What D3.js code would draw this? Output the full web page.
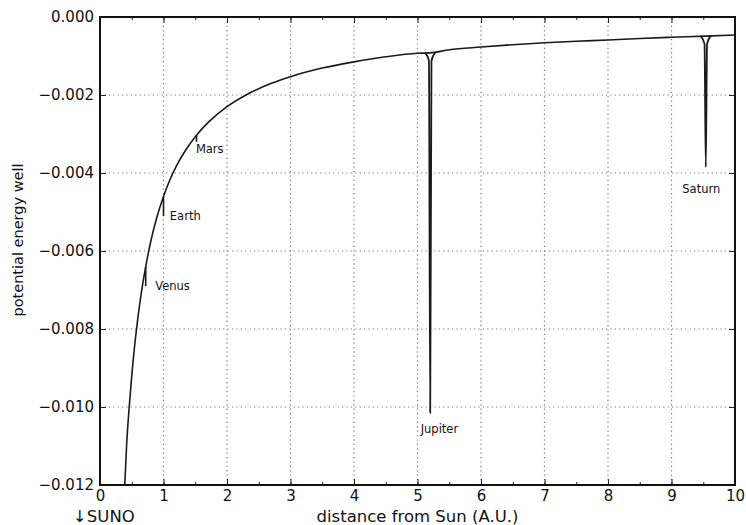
<!DOCTYPE html>
<html>
<head>
<meta charset="utf-8">
<script src="https://cdn.jsdelivr.net/npm/d3@7"></script>
<style>
  body { margin: 0; background: #fff; }
  text { font-family: "DejaVu Sans", sans-serif; fill: #111; }
</style>
</head>
<body>
<svg id="chart"></svg>
<script>
// 数据：势能曲线（不含行星凹陷）
const distance = [0.39, 0.42, 0.46, 0.5, 0.55, 0.6, 0.65, 0.72, 0.8, 0.9, 1.0, 1.1, 1.2,
  1.35, 1.52, 1.7, 2.0, 2.3, 2.7, 3.0, 3.5, 4.0, 4.5, 5.0, 5.2, 5.5, 6.0, 6.5, 7.0, 7.5,
  8.0, 8.5, 9.0, 9.54, 10.0];
const potential = [-0.0120, -0.01095, -0.0100, -0.0092, -0.00836, -0.00767, -0.00708,
  -0.0064, -0.00575, -0.00511, -0.0046, -0.00418, -0.00383, -0.00341, -0.00303, -0.00271,
  -0.0023, -0.002, -0.0017, -0.00153, -0.00131, -0.00115, -0.00102, -0.00093, -0.00092,
  -0.00084, -0.00077, -0.00071, -0.00066, -0.00062, -0.00059, -0.00055, -0.00052,
  -0.00049, -0.00046];

// 行星凹陷：位置、凹陷顶部和底部
const planetNames = ['Venus', 'Earth', 'Mars', 'Jupiter', 'Saturn'];
const planetDistance = [0.72, 1.0, 1.52, 5.2, 9.54];
const planetTop = [-0.0064, -0.0046, -0.00303, -0.00092, -0.00049];
const planetDepth = [-0.0069, -0.0051, -0.0032, -0.01015, -0.00385];

// 行星标注（数据坐标）
const planetLabelX = [0.87, 1.1, 1.51, 5.05, 9.17];
const planetLabelY = [-0.0070, -0.0052, -0.00349, -0.01067, -0.00451];

const xTicks = [0, 1, 2, 3, 4, 5, 6, 7, 8, 9, 10];
const yTicks = [0, -0.002, -0.004, -0.006, -0.008, -0.010, -0.012];

const W = 746, H = 525;
const margin = { top: 17, right: 11, bottom: 40, left: 100 };
const width = W - margin.left - margin.right;
const height = H - margin.top - margin.bottom;

const svg = d3.select('#chart').attr('width', W).attr('height', H);
const g = svg.append('g').attr('transform', `translate(${margin.left},${margin.top})`);

const xScale = d3.scaleLinear().domain([0, 10]).range([0, width]);
const yScale = d3.scaleLinear().domain([-0.012, 0]).range([height, 0]);

const fmtY = (d) => d3.format('.3f')(d).replace('-', '\u2212');

// 网格线
g.append('g')
  .selectAll('line')
  .data(xTicks.slice(1, -1))
  .join('line')
  .attr('x1', (d) => xScale(d)).attr('x2', (d) => xScale(d))
  .attr('y1', 0).attr('y2', height)
  .attr('stroke', '#777').attr('stroke-width', 1.2).attr('stroke-dasharray', '1.2,3.2');

g.append('g')
  .selectAll('line')
  .data(yTicks.slice(1, -1))
  .join('line')
  .attr('y1', (d) => yScale(d)).attr('y2', (d) => yScale(d))
  .attr('x1', 0).attr('x2', width)
  .attr('stroke', '#777').attr('stroke-width', 1.2).attr('stroke-dasharray', '1.2,3.2');

// 坐标轴（刻度朝内）
const minorX = d3.range(0, 10.01, 0.5);

g.append('g')
  .attr('transform', `translate(0,${height})`)
  .call(d3.axisBottom(xScale).tickValues(minorX).tickSize(-3).tickFormat(''))
  .call((a) => a.select('.domain').remove());
g.append('g')
  .call(d3.axisTop(xScale).tickValues(minorX).tickSize(-3).tickFormat(''))
  .call((a) => a.select('.domain').remove());

const xAxis = g.append('g')
  .attr('transform', `translate(0,${height})`)
  .call(d3.axisBottom(xScale).tickValues(xTicks).tickSize(-6).tickPadding(5).tickFormat(d3.format('d')));
xAxis.select('.domain').remove();
xAxis.selectAll('text').style('font-size', '15px').attr('fill', '#111');

g.append('g')
  .call(d3.axisTop(xScale).tickValues(xTicks).tickSize(-6).tickFormat(''))
  .call((a) => a.select('.domain').remove());

const yAxis = g.append('g')
  .call(d3.axisLeft(yScale).tickValues(yTicks).tickSize(-6).tickPadding(6).tickFormat(fmtY));
yAxis.select('.domain').remove();
yAxis.selectAll('text').style('font-size', '15px').attr('fill', '#111');

g.append('g')
  .attr('transform', `translate(${width},0)`)
  .call(d3.axisRight(yScale).tickValues(yTicks).tickSize(-6).tickFormat(''))
  .call((a) => a.select('.domain').remove());

g.selectAll('.tick line').attr('stroke', '#222');

// 边框
g.append('rect')
  .attr('width', width).attr('height', height)
  .attr('fill', 'none').attr('stroke', '#111').attr('stroke-width', 2);

// 曲线
const points = distance.map((d, i) => ({ x: d, y: potential[i] }));
const line = d3.line()
  .x((d) => xScale(d.x))
  .y((d) => yScale(d.y))
  .curve(d3.curveMonotoneX);

const plot = g.append('g').attr('clip-path', 'url(#clip)');
svg.append('clipPath').attr('id', 'clip')
  .append('rect').attr('width', width).attr('height', height);

plot.append('path')
  .datum(points)
  .attr('d', line)
  .attr('fill', 'none')
  .attr('stroke', '#1a1a1a')
  .attr('stroke-width', 1.6);

// 行星凹陷：小行星画短竖线，木星和土星画带喇叭口的尖峰
planetNames.forEach((name, i) => {
  const x = planetDistance[i];
  const top = planetTop[i];
  const depth = planetDepth[i];
  const big = depth - top < -0.002;
  if (big) {
    const spike = [
      { x: x - 0.08, y: top },
      { x: x - 0.02, y: top - 0.0002 },
      { x: x, y: depth },
      { x: x + 0.02, y: top - 0.0002 },
      { x: x + 0.08, y: top + 0.00001 },
    ];
    plot.append('path')
      .datum(spike)
      .attr('d', line)
      .attr('fill', 'none')
      .attr('stroke', '#1a1a1a')
      .attr('stroke-width', 1.8);
  } else {
    plot.append('line')
      .attr('x1', xScale(x)).attr('x2', xScale(x))
      .attr('y1', yScale(top)).attr('y2', yScale(depth))
      .attr('stroke', '#1a1a1a')
      .attr('stroke-width', 1.6);
  }
});

// 行星标签
g.selectAll('.planet')
  .data(planetNames)
  .join('text')
  .attr('class', 'planet')
  .attr('x', (d, i) => xScale(planetLabelX[i]))
  .attr('y', (d, i) => yScale(planetLabelY[i]))
  .style('font-size', '11.5px')
  .text((d) => d);

// 轴标题
svg.append('text')
  .attr('x', margin.left + width / 2)
  .attr('y', 522)
  .attr('text-anchor', 'middle')
  .style('font-size', '16.5px')
  .text('distance from Sun (A.U.)');

svg.append('text')
  .attr('transform', 'rotate(-90)')
  .attr('x', -240)
  .attr('y', 23)
  .attr('text-anchor', 'middle')
  .style('font-size', '14.5px')
  .text('potential energy well');

svg.append('text')
  .attr('x', 73)
  .attr('y', 522)
  .style('font-size', '16.5px')
  .text('\u2193SUNO');
</script>
</body>
</html>
